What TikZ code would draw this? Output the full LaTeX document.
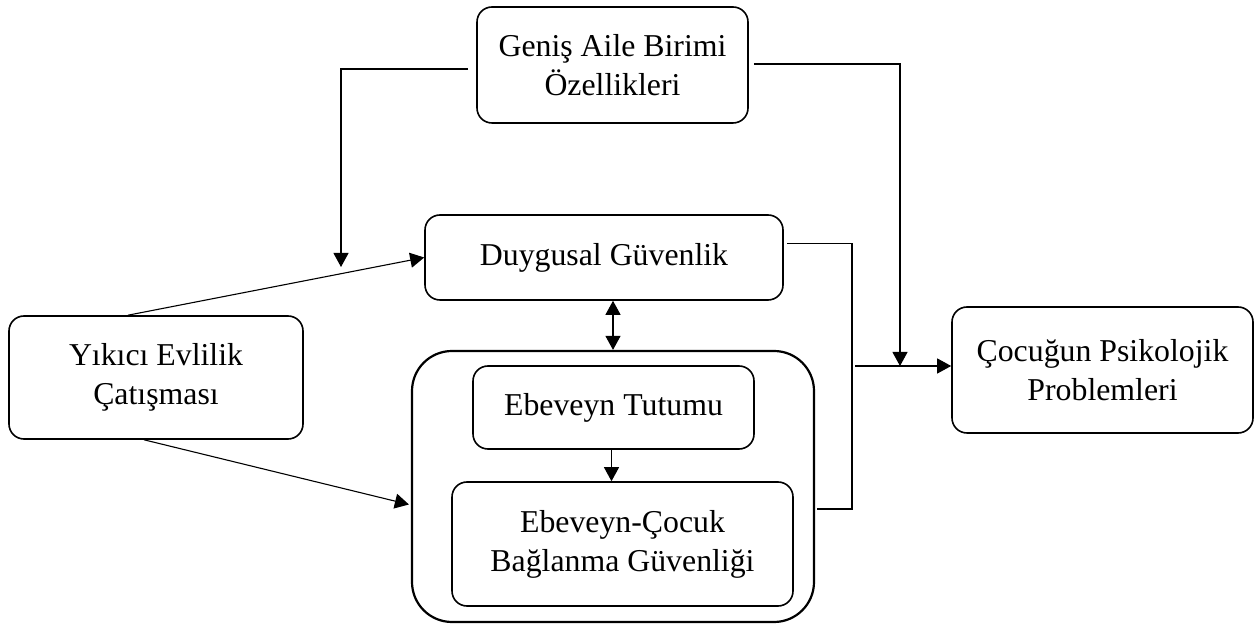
\documentclass[tikz,border=0pt]{standalone}
\usepackage{fontspec}
\setmainfont{Liberation Serif}
\usepackage{tikz}
\usetikzlibrary{arrows.meta}

\begin{document}
\begin{tikzpicture}[x=0.5pt,y=-0.5pt,
    box/.style={draw,rounded corners=7.5pt,line width=0.8pt,align=center,inner sep=0pt,
      font=\fontsize{15.9}{19.5}\selectfont},
    bigbox/.style={draw,rounded corners=20pt,line width=1.1pt,inner sep=0pt},
    arr/.style={-{Triangle[length=7pt,width=7.5pt]}},
    line width=0.55pt]
    \useasboundingbox (0,0) rectangle (1258,624);

    \node[bigbox,minimum width=201pt,minimum height=135.5pt] (outer) at (613,486.5) {};
    \node[box,minimum width=135.5pt,minimum height=58pt] (genis) at (612.5,65) {Geniş Aile Birimi\\Özellikleri};
    \node[box,minimum width=179pt,minimum height=42.5pt] (duygu) at (604,257.5) {Duygusal Güvenlik};
    \node[box,minimum width=147pt,minimum height=61.5pt] (yikici) at (156,377.5) {Yıkıcı Evlilik\\Çatışması};
    \node[box,minimum width=140.5pt,minimum height=41.5pt] (tutum) at (613.5,407.5) {Ebeveyn Tutumu};
    \node[box,minimum width=170.5pt,minimum height=62pt] (bag) at (622.5,544) {Ebeveyn-Çocuk\\Bağlanma Güvenliği};
    \node[box,minimum width=150.5pt,minimum height=63pt] (cocuk) at (1102.5,370) {Çocuğun Psikolojik\\Problemleri};

    \coordinate (m1) at (341,267);
    \coordinate (hub) at (900,366);
    \coordinate (brk) at (855,366);
    \coordinate (bk) at (852,509);

    \draw[arr] ([xshift=-14pt]yikici.north) -- (duygu.west);
    \draw[arr] ([xshift=-6pt]yikici.south) -- ([xshift=-1pt,yshift=-9pt]outer.west);
    \draw[arr] ([xshift=-4pt,yshift=-2pt]genis.west) -| (m1);
    \draw[arr] ([xshift=2.5pt,yshift=0.5pt]genis.east) -| (hub);
    \draw ([xshift=1.5pt,yshift=7pt]duygu.east) -| (bk) -- ([xshift=1pt]outer.east |- bk);
    \draw[arr] (brk) -- (cocuk.west |- brk);
    \draw[{Triangle[length=7pt,width=7.5pt]}-{Triangle[length=7pt,width=7.5pt]}] (outer.north |- duygu.south) -- (outer.north);
    \draw[arr] ([xshift=-1pt]tutum.south) -- ([xshift=-1pt]tutum.south |- bag.north);

\end{tikzpicture}
\end{document}
